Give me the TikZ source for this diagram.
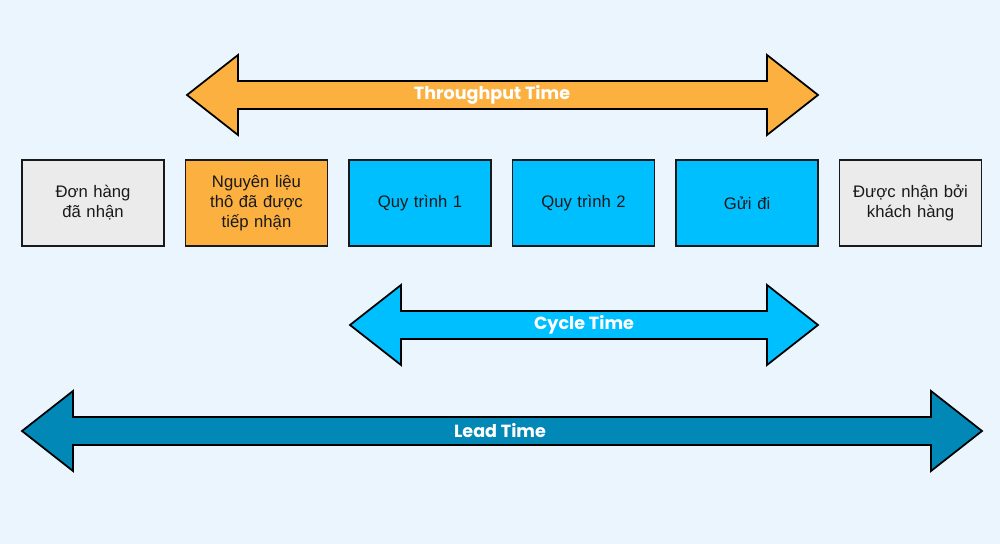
\documentclass[tikz,border=0pt]{standalone}
\usepackage{fontspec}
\setmainfont{Liberation Sans}
\newfontfamily\poppins{Poppins}
\usetikzlibrary{positioning}

\definecolor{bgblue}{HTML}{EAF5FE}
\definecolor{boxgrey}{HTML}{EBEBEB}
\definecolor{rawyellow}{HTML}{FBB040}
\definecolor{stepcyan}{HTML}{00BFFF}
\definecolor{leadblue}{HTML}{0288B7}

% double headed time arrow: left tip x, right tip x, y, fill
\newcommand{\timearrow}[4]{%
  \draw[fill=#4, line width=1pt, line join=miter]
    (#1,#3) -- ++(51,-40) -- ++(0,26) -- (#2-51,#3-14) -- ++(0,-26)
    -- (#2,#3) -- ++(-51,40) -- ++(0,-26) -- (#1+51,#3+14) -- ++(0,26) -- cycle;}

\begin{document}
\begin{tikzpicture}[x=0.2mm, y=-0.2mm, node distance=3.95mm,
    stage/.style={draw=black!90, line width=1pt, minimum width=28.4mm,
      minimum height=17.2mm, text width=25mm, align=center,
      text=black!90, font=\fontsize{9.5}{11.5}\selectfont},
    timelabel/.style={text=white, font=\poppins\bfseries\fontsize{10}{12}\selectfont}]
    \fill[bgblue] (0,0) rectangle (1000,544);
    \useasboundingbox (0,0) rectangle (1000,544);

    % Stages
    \node[stage, fill=boxgrey] (order) at (93,203) {Đơn hàng\\đã nhận};
    \node[stage, fill=rawyellow, right=of order] (raw) {Nguyên liệu\\thô đã được\\tiếp nhận};
    \node[stage, fill=stepcyan, right=of raw] (proc1) {Quy trình 1};
    \node[stage, fill=stepcyan, right=of proc1] (proc2) {Quy trình 2};
    \node[stage, fill=stepcyan, right=of proc2] (ship) {Gửi đi};
    \node[stage, fill=boxgrey, right=of ship] (received) {Được nhận bởi\\khách hàng};

    % Arrows
    \timearrow{187}{818}{95}{rawyellow}
    \timearrow{350}{818}{325}{stepcyan}
    \timearrow{22}{982}{431}{leadblue}

    % Labels
    \node[timelabel] (throughput) at (492,95) {Throughput Time};
    \node[timelabel] (cycle) at (584,325) {Cycle Time};
    \node[timelabel] (lead) at (500,431) {Lead Time};
\end{tikzpicture}
\end{document}
